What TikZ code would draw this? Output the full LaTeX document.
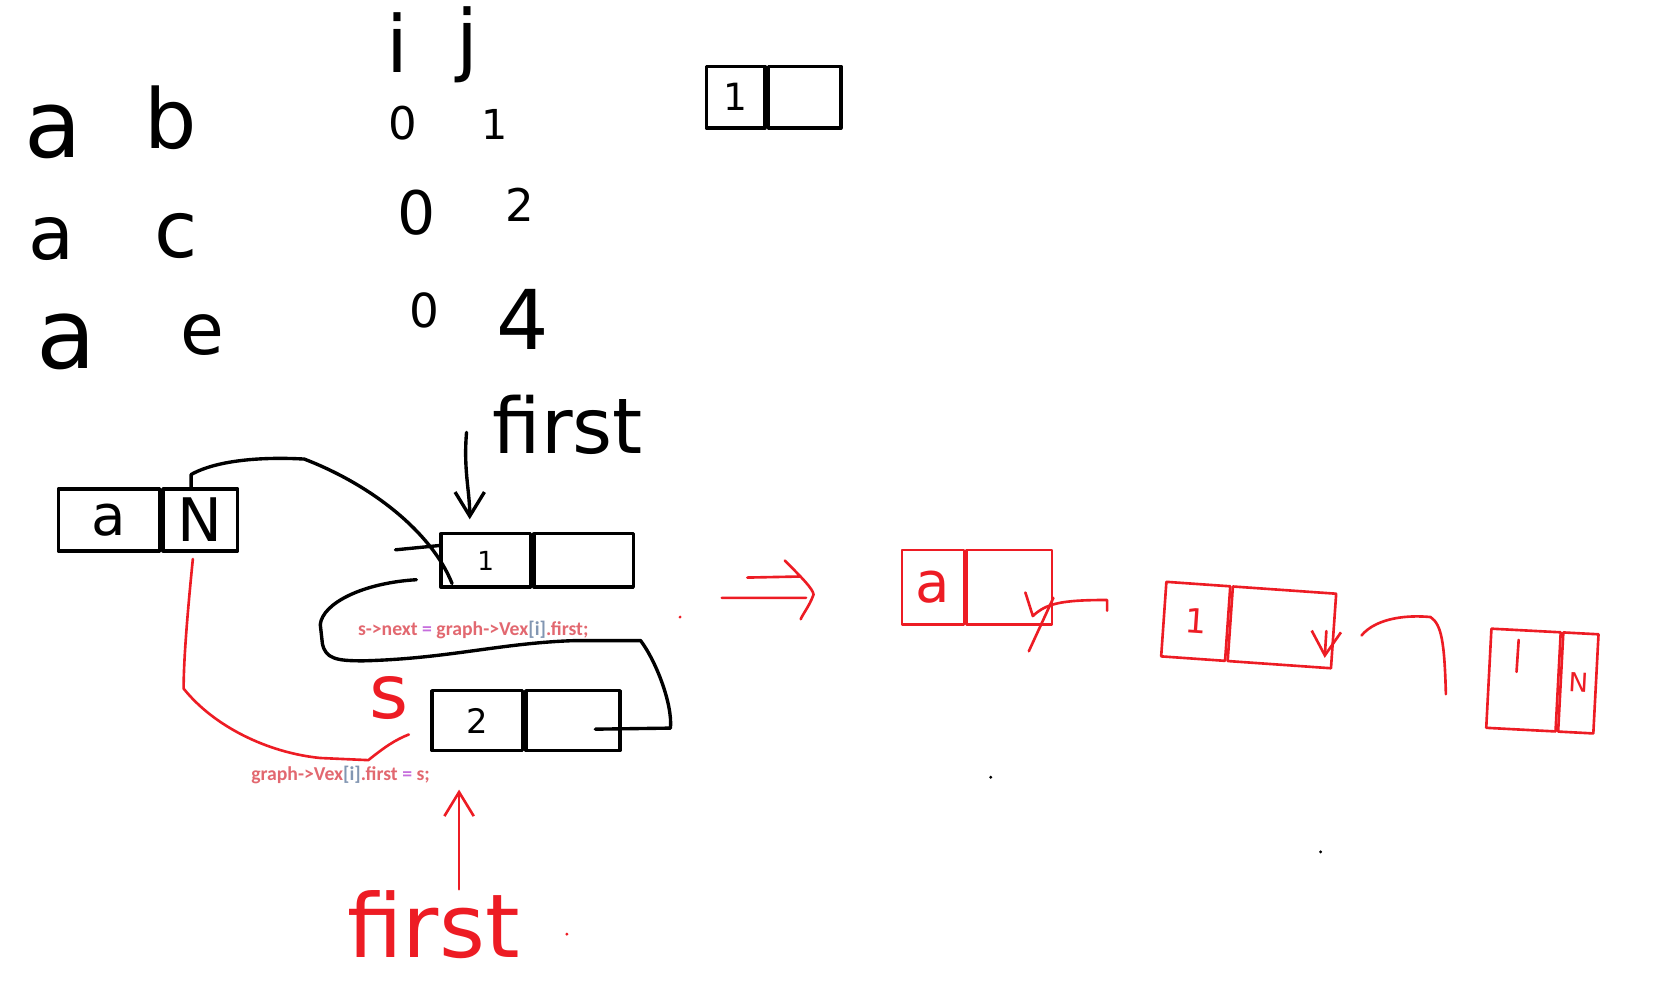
\documentclass[tikz,border=0pt]{standalone}
\usepackage{fontspec}
\setmainfont{DejaVu Sans}
\newfontfamily\codefont{Carlito}
\usetikzlibrary{positioning,calc,arrows.meta}
\definecolor{inkred}{RGB}{237,28,36}
\definecolor{codered}{RGB}{226,104,112}
\definecolor{codepurple}{RGB}{198,110,221}
\definecolor{codegrey}{RGB}{130,150,178}
\tikzset{
    hand/.style={line width=1.8pt, line cap=round, line join=round},
    redhand/.style={hand, inkred, line width=1.4pt},
    glyph/.style={inner sep=0pt, font=\fontsize{#1}{#1}\selectfont},
    cell/.style={draw, hand, inner sep=0pt, minimum height=#1},
    redcell/.style={cell=#1, draw=inkred, line width=1.4pt, text=inkred},
    codetext/.style={inner sep=0pt, anchor=west, font=\codefont\bfseries\fontsize{10.5}{12}\selectfont},
    barb/.style={-{Straight Barb[length=4.5mm,width=5.5mm]}}
}
\begin{document}
\begin{tikzpicture}[x=0.02cm,y=-0.02cm]
\useasboundingbox (0,0) rectangle (1568,918);
% edge pairs
\node[glyph=50] (ea1) at (50,124) {a};
\node[glyph=44] (eb) at (160,110) {b};
\node[glyph=40] (ea2) at (48,224) {a};
\node[glyph=42] (ec) at (165,221) {c};
\node[glyph=52] (ea3) at (62,320) {a};
\node[glyph=38] (ee) at (190,314) {e};
% index pairs
\node[glyph=42] (hi) at (372,40) {i};
\node[glyph=42] (hj) at (438,42) {j};
\node[glyph=24] (ia) at (377,115) {0};
\node[glyph=22] (ja) at (463,117) {1};
\node[glyph=32] (ib) at (390,199) {0};
\node[glyph=24] (jb) at (487,192) {2};
\node[glyph=25] (ic) at (398,291) {0};
\node[glyph=44] (jc) at (490,299) {4};
% single box
\node[cell=1.16cm, minimum width=1.1cm, glyph=20] (tl) at (689,91) {1};
\node[cell=1.16cm, minimum width=1.36cm, right=0pt of tl] (tr) {};

% vertex a and its list
\node[cell=1.16cm, minimum width=1.9cm, glyph=30] (vl) at (102,487) {a};
\node[cell=1.16cm, minimum width=1.4cm, glyph=32, right=0pt of vl] (vr) {N};
\node[cell=1cm, minimum width=1.68cm, glyph=14] (bl) at (455,525) {1};
\node[cell=1cm, minimum width=1.86cm, right=0pt of bl] (br) {};
\node[cell=1.12cm, minimum width=1.7cm, glyph=18] (sl) at (447,675) {2};
\node[cell=1.12cm, minimum width=1.76cm, right=0pt of sl] (sr) {};

\node[glyph=41] (bfirst) at (532,398) {first};
\coordinate (bptr) at (437,405);
\draw[hand, barb] (bptr) .. controls (434,440) and (440,460) .. ($(bl.north)+(-15,-12)$);
\draw[hand] ($(vr.north west)+(28,0)$) -- ++(0,-12) .. controls (205,430) and (250,428) .. (285,430)
    .. controls (350,455) and (405,500) .. ($(bl.south west)+(12,-5)$);
\draw[hand] ($(bl.west)+(-41,-10)$) -- ($(bl.west)+(0,-14)$);

\coordinate (snext) at (390,543);
\draw[hand] (snext) .. controls (340,546) and (302,565) .. (300,585) -- (302,603)
    .. controls (305,617) and (315,619) .. (340,619) .. controls (420,617) and (470,602) .. (540,600)
    -- (600,600) .. controls (615,620) and (630,660) .. (628,682) -- ($(sr.center)+(21,8)$);

\node[codetext] (cnext) at (335,590) {\color{codered}s->next \color{codepurple}= \color{codered}graph->Vex\color{codegrey}[i]\color{codered}.first;};
\node[codetext] (cfirst) at (235,726) {\color{codered}graph->Vex\color{codegrey}[i]\color{codered}.first \color{codepurple}= \color{codered}s;};

\node[glyph=40, text=inkred] (rs) at (364,654) {s};
\draw[redhand] ($(vr.south)+(-7,6)$) .. controls (175,580) and (172,620) .. (172,645)
    .. controls (200,680) and (250,705) .. (300,710) -- (345,712)
    .. controls (360,700) and (370,693) .. ($(sl.west)+(-20,13)$);

\node[glyph=47, text=inkred] (rfirst) at (406,866) {first};
\coordinate (rptr) at (430,833);
\draw[redhand, barb] (rptr) -- ($(sl.south)+(-17,35)$);

% after
\draw[redhand] (676,560) -- (755,560) (700,541) -- (750,540)
    (735,525) .. controls (750,540) and (762,552) .. (762,557) .. controls (758,568) and (752,575) .. (750,580);

\node[redcell=1.4cm, minimum width=1.16cm, glyph=30] (ral) at (874,550) {a};
\node[redcell=1.4cm, minimum width=1.6cm, right=0pt of ral] (rar) {};
\node[redcell=1.4cm, minimum width=1.2cm, glyph=18, rotate=-4] (rbl) at (1120,582) {1};
\node[redcell=1.4cm, minimum width=1.94cm, rotate=-4, right=0pt of rbl] (rbr) {};
\node[redcell=1.86cm, minimum width=1.3cm, rotate=-3] (rcl) at (1427,637) {};
\node[redcell=1.86cm, minimum width=0.66cm, glyph=14, rotate=-3, right=0pt of rcl] (rcr) {N};

\draw[redhand] ($(rar.east)+(0,10)$) -- ($(rar.east)+(-23,60)$);
\draw[redhand] ($(rar.center)+(15,5)$) -- ++(7,22) .. controls (980,565) and (995,562) .. (1037,562) -- ++(0,10);
\draw[redhand, barb] ($(rbr.east)+(-8,0)$) -- ($(rbr.south east)+(-7,-11)$);
\draw[redhand] ($(rbr.east)+(25,4)$) .. controls (1290,578) and (1320,576) .. (1340,578)
    .. controls (1350,585) and (1353,600) .. ($(rcl.west)+(-39,15)$);
\draw[redhand] ($(rcl.north)+(-7,10)$) -- ++(-2,30);

\fill[inkred] (637,578) circle (1.5) (531,875) circle (1.5);
\fill (928,728) circle (1.5) (1237,798) circle (1.5);
\end{tikzpicture}
\end{document}
